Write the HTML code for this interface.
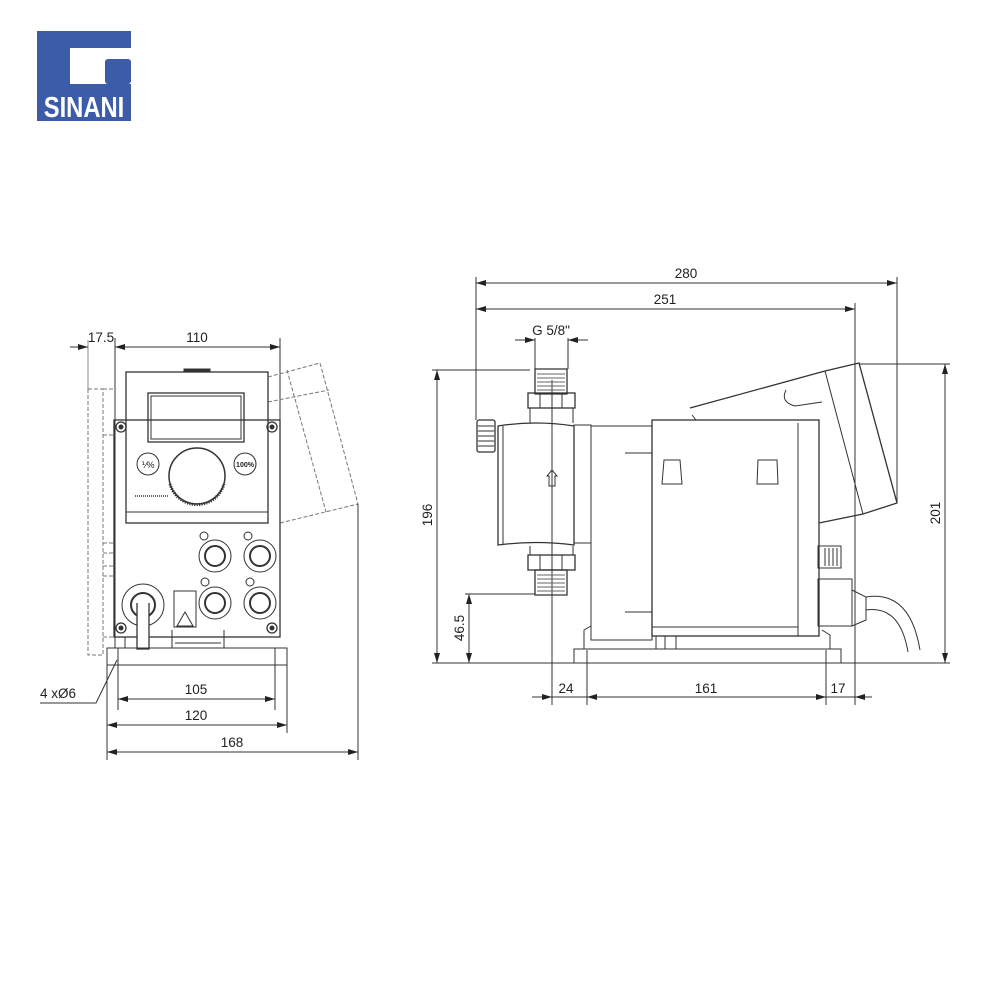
<!DOCTYPE html>
<html><head><meta charset="utf-8"><style>
html,body{margin:0;padding:0;background:#fff}
svg{display:block}
text{font-family:"Liberation Sans",sans-serif;font-size:13.5px;fill:#222}
</style></head><body>
<svg width="1000" height="1000" viewBox="0 0 1000 1000" xmlns="http://www.w3.org/2000/svg">
<defs>
<marker id="a" viewBox="0 0 10 6" refX="10" refY="3" markerWidth="10" markerHeight="6" orient="auto-start-reverse" markerUnits="userSpaceOnUse"><path d="M0,0L10,3L0,6z" fill="#222"/></marker>
</defs>
<!-- logo -->
<rect x="37" y="31" width="94" height="90" fill="#3c5ca8"/>
<path d="M70,48H131V84H70Z" fill="#fff"/>
<rect x="105" y="59" width="26" height="25" rx="3" fill="#3c5ca8"/>
<text transform="translate(84,117) scale(0.82,1)" text-anchor="middle" style="font-size:29px;font-weight:bold;fill:#fff">SINANI</text>

<g fill="none" stroke="#333" stroke-width="1">
<!-- LEFT VIEW -->
<line x1="88" y1="340" x2="88" y2="389" stroke="#888"/>
<line x1="115" y1="338" x2="115" y2="648"/>
<line x1="280" y1="338" x2="280" y2="420"/>
<line x1="70" y1="347" x2="88" y2="347" marker-end="url(#a)"/>
<line x1="115" y1="347" x2="280" y2="347" marker-start="url(#a)" marker-end="url(#a)"/>
<g stroke="#777" stroke-dasharray="4,2">
<rect x="88" y="389" width="15" height="266"/>
<line x1="103" y1="389" x2="115" y2="389"/>
<line x1="103" y1="435" x2="115" y2="435"/>
<line x1="103" y1="543" x2="115" y2="543"/>
<line x1="103" y1="553" x2="115" y2="553"/>
<line x1="103" y1="566" x2="115" y2="566"/>
<line x1="103" y1="576" x2="115" y2="576"/>
<line x1="103" y1="637" x2="115" y2="637"/>
<path d="M268,377L320,363L358,504L280,523"/>
<path d="M268,402L329,390"/>
<path d="M287,370L326,512"/>
</g>
<rect x="114" y="420" width="166" height="217" stroke-width="1.3"/>
<rect x="126" y="372" width="142" height="151" stroke-width="1.3"/>
<line x1="126" y1="512" x2="268" y2="512"/>
<rect x="184" y="369" width="26" height="3" fill="#333"/>
<rect x="148" y="393" width="96" height="49" stroke-width="1.3"/>
<rect x="151" y="396" width="90" height="43"/>
<circle cx="148" cy="464" r="11"/>
<text x="148" y="468" text-anchor="middle" stroke="none" style="font-size:9px">⅟%</text>
<circle cx="245" cy="464" r="11"/>
<text x="245" y="467" text-anchor="middle" stroke="none" style="font-size:7px;font-weight:bold">100%</text>
<circle cx="197" cy="476" r="28" stroke-width="1.5"/>
<path d="M170,484A28,28 0 0 0 224,484" stroke-width="3" stroke-dasharray="1.2,1.2"/>
<line x1="135" y1="496" x2="168" y2="496" stroke-width="1.5" stroke-dasharray="1,1"/>
<g stroke-width="1.3"><circle cx="121" cy="427" r="5"/><circle cx="272" cy="427" r="5"/><circle cx="121" cy="628" r="5"/><circle cx="272" cy="628" r="5"/></g>
<g fill="#333"><circle cx="121" cy="427" r="2"/><circle cx="272" cy="427" r="2"/><circle cx="121" cy="628" r="2"/><circle cx="272" cy="628" r="2"/></g>
<g><circle cx="215" cy="556" r="16"/><circle cx="215" cy="556" r="10" stroke-width="2"/>
<circle cx="260" cy="556" r="16"/><circle cx="260" cy="556" r="10" stroke-width="2"/>
<circle cx="215" cy="603" r="16"/><circle cx="215" cy="603" r="10" stroke-width="2"/>
<circle cx="260" cy="603" r="16"/><circle cx="260" cy="603" r="10" stroke-width="2"/>
<circle cx="204" cy="536" r="4"/><circle cx="248" cy="536" r="4"/><circle cx="205" cy="582" r="4"/><circle cx="250" cy="582" r="4"/></g>
<circle cx="143" cy="605" r="21"/>
<circle cx="143" cy="605" r="12" stroke-width="2"/>
<path d="M137,603V649H149V603" fill="#fff" stroke-width="1.3"/>
<rect x="174" y="591" width="22" height="36"/>
<path d="M185,612L177,626H193Z"/>
<path d="M115,637V648M125,637V648M172,630V648H224V630M175,643H221"/>
<path d="M107,648H287V665H107Z"/>
<line x1="118" y1="648" x2="118" y2="710"/>
<line x1="275" y1="648" x2="275" y2="710"/>
<line x1="107" y1="665" x2="107" y2="760"/>
<line x1="287" y1="665" x2="287" y2="733"/>
<line x1="358" y1="504" x2="358" y2="760"/>
<line x1="118" y1="699" x2="275" y2="699" marker-start="url(#a)" marker-end="url(#a)"/>
<line x1="107" y1="725" x2="287" y2="725" marker-start="url(#a)" marker-end="url(#a)"/>
<line x1="107" y1="752" x2="358" y2="752" marker-start="url(#a)" marker-end="url(#a)"/>
<path d="M40,703H96L117,660"/>

<!-- RIGHT VIEW -->
<line x1="476" y1="277" x2="476" y2="420"/>
<line x1="897" y1="277" x2="897" y2="503"/>
<line x1="855" y1="303" x2="855" y2="705"/>
<line x1="476" y1="283" x2="897" y2="283" marker-start="url(#a)" marker-end="url(#a)"/>
<line x1="476" y1="309" x2="855" y2="309" marker-start="url(#a)" marker-end="url(#a)"/>
<line x1="535" y1="338" x2="535" y2="369"/>
<line x1="568" y1="338" x2="568" y2="369"/>
<line x1="515" y1="340" x2="535" y2="340" marker-end="url(#a)"/>
<line x1="588" y1="340" x2="568" y2="340" marker-end="url(#a)"/>
<line x1="432" y1="370" x2="530" y2="370"/>
<line x1="437" y1="370" x2="437" y2="663" marker-start="url(#a)" marker-end="url(#a)"/>
<line x1="465" y1="594" x2="535" y2="594"/>
<line x1="469" y1="594" x2="469" y2="663" marker-start="url(#a)" marker-end="url(#a)"/>
<line x1="432" y1="663" x2="950" y2="663"/>
<line x1="859" y1="364" x2="950" y2="364"/>
<line x1="945" y1="364" x2="945" y2="663" marker-start="url(#a)" marker-end="url(#a)"/>
<line x1="552" y1="380" x2="552" y2="705"/>
<line x1="587" y1="650" x2="587" y2="705"/>
<line x1="826" y1="650" x2="826" y2="705"/>
<line x1="532" y1="697" x2="552" y2="697" marker-end="url(#a)"/>
<line x1="552" y1="697" x2="587" y2="697"/>
<line x1="587" y1="697" x2="826" y2="697" marker-start="url(#a)" marker-end="url(#a)"/>
<line x1="826" y1="697" x2="855" y2="697"/>
<line x1="872" y1="697" x2="855" y2="697" marker-end="url(#a)"/>
<path d="M535,369H567V394H535Z" stroke-width="1.3"/>
<path d="M537,374H565M537,378H565M537,382H565M537,386H565M537,390H565" stroke="#666"/>
<rect x="528" y="393" width="47" height="15" stroke-width="1.3"/>
<path d="M540,393V408M562,393V408"/>
<path d="M530,408V423M573,408V423"/>
<path d="M498,426Q536,420 574,426V545Q536,540 498,545Z" stroke-width="1.3"/>
<path d="M503,426V545"/>
<path d="M530,546V555M573,546V555"/>
<rect x="528" y="555" width="47" height="15" stroke-width="1.3"/>
<path d="M540,555V570M562,555V570"/>
<path d="M535,570H567V595H535Z" stroke-width="1.3"/>
<path d="M537,575H565M537,579H565M537,583H565M537,587H565M537,591H565" stroke="#666"/>
<rect x="477" y="420" width="18" height="32" rx="2" stroke-width="1.3"/>
<path d="M478,426H494M478,431H494M478,436H494M478,441H494M478,446H494"/>
<path d="M549,486V476H547L552,470L557,476H555V486Z"/>
<rect x="574" y="425" width="17" height="118"/>
<rect x="591" y="426" width="61" height="214"/>
<path d="M625,453H652M625,612H652"/>
<rect x="652" y="420" width="167" height="216" stroke-width="1.3"/>
<path d="M798,423V636M652,627H798"/>
<path d="M664,460H680L682,484H662Z"/>
<path d="M758,460H777L778,484H757Z"/>
<path d="M690,408L825,371L859,363L897,503L863,514L819,523" stroke-width="1.3"/>
<path d="M825,371L863,514M692,415L696,420"/>
<path d="M786,390Q780,402 795,406L822,402"/>
<rect x="818" y="546" width="23" height="22"/>
<path d="M825,548V566M829,548V566M833,548V566M837,548V566"/>
<rect x="818" y="579" width="34" height="47"/>
<path d="M852,590L866,597V620L852,626"/>
<path d="M866,597Q910,590 920,650M866,610Q900,605 908,652"/>
<path d="M574,663V649H841V663"/>
<path d="M584,649V630L591,626M830,649V635L822,630"/>
<path d="M656,636V649M665,636V649M676,636V649"/>
</g>
<text x="101" y="342" text-anchor="middle">17.5</text>
<text x="197" y="342" text-anchor="middle">110</text>
<text x="196" y="694" text-anchor="middle">105</text>
<text x="196" y="720" text-anchor="middle">120</text>
<text x="232" y="747" text-anchor="middle">168</text>
<text x="40" y="698">4 xØ6</text>
<text x="686" y="278" text-anchor="middle">280</text>
<text x="665" y="304" text-anchor="middle">251</text>
<text x="551" y="335" text-anchor="middle">G 5/8"</text>
<text x="566" y="693" text-anchor="middle">24</text>
<text x="706" y="693" text-anchor="middle">161</text>
<text x="838" y="693" text-anchor="middle">17</text>
<text transform="translate(432,515) rotate(-90)" text-anchor="middle">196</text>
<text transform="translate(464,628) rotate(-90)" text-anchor="middle">46.5</text>
<text transform="translate(940,513) rotate(-90)" text-anchor="middle">201</text>
</svg>
</body></html>
